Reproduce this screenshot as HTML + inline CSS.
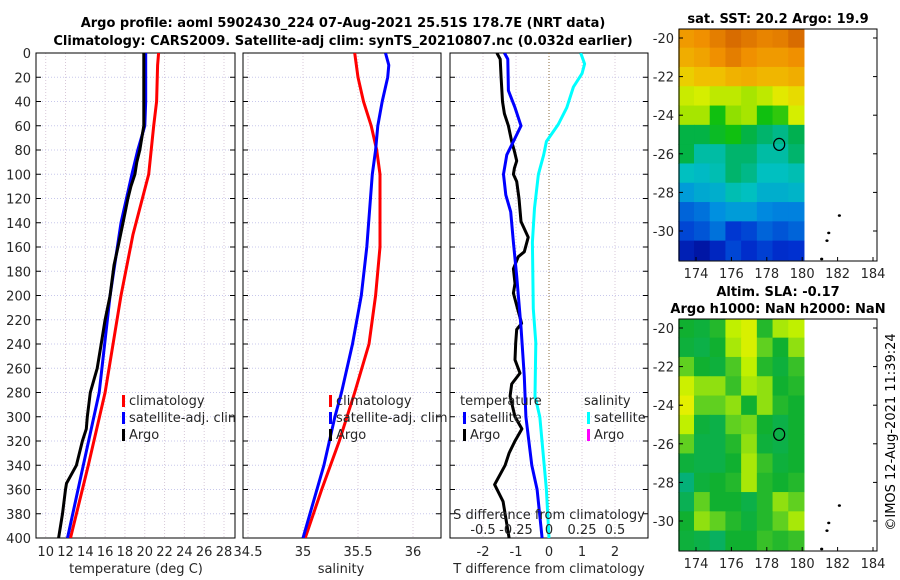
<!DOCTYPE html>
<html><head><meta charset="utf-8"><style>
html,body{margin:0;padding:0;background:#fff;}
svg{display:block;font-family:"DejaVu Sans","Liberation Sans",sans-serif;}
</style></head><body>
<svg id="fig" width="900" height="580" viewBox="0 0 900 580" xmlns="http://www.w3.org/2000/svg">
<text x="343" y="27" text-anchor="middle" font-size="13" font-weight="bold">Argo profile: aoml 5902430_224 07-Aug-2021 25.51S 178.7E (NRT data)</text>
<text x="343" y="45" text-anchor="middle" font-size="13" font-weight="bold">Climatology: CARS2009. Satellite-adj clim: synTS_20210807.nc (0.032d earlier)</text>
<text x="778" y="23" text-anchor="middle" font-size="13" font-weight="bold">sat. SST: 20.2 Argo: 19.9</text>
<text x="778" y="296" text-anchor="middle" font-size="13" font-weight="bold">Altim. SLA: -0.17</text>
<text x="778" y="313" text-anchor="middle" font-size="13" font-weight="bold">Argo h1000: NaN h2000: NaN</text>
<text transform="translate(895,432) rotate(-90)" text-anchor="middle" font-size="13">©IMOS 12-Aug-2021 11:39:24</text>
<g id="g"></g>
</svg>
<script>
// ---- data ----
const depthTicks=[0,20,40,60,80,100,120,140,160,180,200,220,240,260,280,300,320,340,360,380,400];
const tTicks=[10,12,14,16,18,20,22,24,26,28];
const sTicks=[34.5,35,35.5,36];
const dTTicks=[-2,-1,0,1,2];
const dSTickLabels=["-0.5","-0.25","0","0.25","0.5"];
const dSTicks=[-0.5,-0.25,0,0.25,0.5];

const tClimDepth=[0,10,40,60,100,150,200,280,340,400];
const tClimVal=[21.4,21.3,21.2,20.9,20.4,18.8,17.6,16.0,14.3,12.5];
const tSatDepth=[0,10,40,60,80,100,140,200,280,340,400];
const tSatVal=[20.1,20.1,20.1,20.0,19.3,18.7,17.6,16.5,15.4,13.8,12.2];
const tArgoDepth=[0,30,60,70,80,90,100,110,120,140,160,175,200,220,240,260,280,300,310,320,340,355,360,380,400];
const tArgoVal=[19.9,19.9,19.9,19.7,19.5,19.2,19.0,18.6,18.3,17.8,17.3,16.9,16.5,16.0,15.6,15.2,14.5,14.2,14.1,13.7,13.1,12.1,12.0,11.7,11.3];

const sClimDepth=[0,20,40,60,80,100,160,200,240,280,320,360,400];
const sClimVal=[35.47,35.5,35.55,35.62,35.67,35.7,35.7,35.66,35.6,35.47,35.33,35.17,35.02];
const sSatDepth=[0,10,20,40,60,80,100,160,200,240,280,300,340,400];
const sSatVal=[35.75,35.78,35.77,35.72,35.68,35.66,35.63,35.58,35.53,35.45,35.35,35.29,35.19,35.0];

const dTArgoDepth=[0,5,20,40,50,60,73,81,89,95,100,106,120,139,152,164,168,178,190,198,211,223,228,239,253,264,273,283,300,310,320,330,340,356,370,380,400];
const dTArgoVal=[-1.58,-1.48,-1.45,-1.41,-1.35,-1.23,-1.13,-1.05,-0.98,-1.05,-1.08,-0.98,-0.91,-0.85,-0.63,-0.75,-0.93,-1.08,-1.03,-1.08,-0.95,-0.83,-0.98,-1.01,-1.03,-0.88,-1.13,-1.18,-1.03,-0.82,-1.03,-1.21,-1.33,-1.65,-1.39,-1.33,-1.21];
const dTSatDepth=[0,5,31,45,60,73,84,100,117,131,156,184,226,267,300,340,360,400];
const dTSatVal=[-1.35,-1.25,-1.23,-1.03,-0.85,-1.08,-1.28,-1.38,-1.31,-1.16,-1.08,-0.98,-0.85,-0.75,-0.7,-0.52,-0.36,-0.21];
const dSSatDepth=[0,9,17,28,45,59,73,84,100,128,156,211,239,283,300,360,400];
const dSSatVal=[0.24,0.27,0.25,0.185,0.135,0.07,-0.02,-0.04,-0.08,-0.11,-0.126,-0.119,-0.1,-0.106,-0.07,-0.02,0.0];

const sstGrid=[
[0.8,0.82,0.85,0.88,0.86,0.84,0.85,0.88],
[0.76,0.78,0.82,0.85,0.82,0.8,0.8,0.82],
[0.7,0.72,0.72,0.75,0.76,0.74,0.74,0.76],
[0.63,0.64,0.62,0.62,0.6,0.62,0.66,0.68],
[0.6,0.6,0.5,0.58,0.6,0.5,0.52,0.64],
[0.45,0.45,0.48,0.5,0.45,0.42,0.4,0.44],
[0.45,0.38,0.38,0.42,0.42,0.38,0.38,0.42],
[0.36,0.35,0.37,0.42,0.4,0.36,0.36,0.37],
[0.3,0.32,0.33,0.37,0.36,0.33,0.33,0.34],
[0.22,0.24,0.28,0.3,0.3,0.27,0.26,0.26],
[0.18,0.2,0.24,0.16,0.18,0.22,0.2,0.22],
[0.1,0.07,0.12,0.18,0.14,0.17,0.14,0.15]];
const slaGrid=[
[0.4,0.35,0.45,0.8,0.9,0.45,0.75,0.8],
[0.35,0.3,0.4,0.75,0.9,0.6,0.4,0.7],
[0.6,0.4,0.35,0.55,0.8,0.45,0.35,0.5],
[0.85,0.7,0.7,0.5,0.75,0.7,0.4,0.45],
[0.95,0.6,0.6,0.7,0.4,0.7,0.45,0.4],
[0.8,0.35,0.3,0.6,0.65,0.4,0.3,0.4],
[0.6,0.3,0.3,0.45,0.7,0.35,0.3,0.4],
[0.35,0.3,0.3,0.4,0.75,0.5,0.35,0.4],
[0.1,0.35,0.4,0.45,0.75,0.45,0.4,0.45],
[0.25,0.6,0.4,0.4,0.3,0.45,0.7,0.6],
[0.4,0.7,0.6,0.45,0.35,0.45,0.6,0.75],
[0.35,0.3,0.2,0.4,0.4,0.5,0.45,0.5]];
const lonTicks=[174,176,178,180,182,184];
const latTicks=[-20,-22,-24,-26,-28,-30];
const floatLon=178.7, floatLat=-25.51;
const coastLon=[182.1,181.5,181.4,181.1];
const coastLat=[-29.2,-30.1,-30.5,-31.45];

// ---- drawing ----
const NS="http://www.w3.org/2000/svg";
const G=document.getElementById('g');
function el(tag,attrs,parent,txt){const e=document.createElementNS(NS,tag);for(const k in attrs)e.setAttribute(k,attrs[k]);if(txt!==undefined)e.textContent=txt;(parent||G).appendChild(e);return e;}
const TOP=53,BOT=538;
const yD=d=>TOP+d*(BOT-TOP)/400;
function lin(d0,d1,p0,p1){return v=>p0+(v-d0)*(p1-p0)/(d1-d0);}
const defs=el('defs',{});

function panel(name,x0,x1,xs,gridX,labels,labelVals){
  const cp=el('clipPath',{id:'cp-'+name},defs);el('rect',{x:x0,y:TOP,width:x1-x0,height:BOT-TOP},cp);
  const g=el('g',{});
  
  
  depthTicks.forEach(d=>{const l=el('line',{x1:x0,x2:x1,y1:yD(d),y2:yD(d),stroke:'#c8c8ec','stroke-dasharray':'1,2','stroke-width':1},g);
    });
  gridX.forEach(v=>{const l=el('line',{x1:xs(v),x2:xs(v),y1:TOP,y2:BOT,stroke:'#d8c8d8','stroke-dasharray':'1,2','stroke-width':1},g);
    });
  depthTicks.forEach(d=>{el('line',{x1:x0,x2:x0+5,y1:yD(d),y2:yD(d),stroke:'#000'},g);el('line',{x1:x1-5,x2:x1,y1:yD(d),y2:yD(d),stroke:'#000'},g);});
  labels.forEach((t,i)=>{const tx=el('text',{x:xs(labelVals[i]),y:556,'text-anchor':'middle','font-size':13,fill:'#262626'},g,t);
    });
  const f=el('rect',{x:x0,y:TOP,width:x1-x0,height:BOT-TOP,fill:'none',stroke:'#000','stroke-width':1},g);
  
  return g;
}
function line(name,xs,depths,vals,color,clipId,w){
  const pts=depths.map((d,i)=>xs(vals[i]).toFixed(1)+','+yD(d).toFixed(1)).join(' ');
  const p=el('polyline',{points:pts,fill:'none',stroke:color,'stroke-width':w||3,'stroke-linejoin':'round','clip-path':'url(#'+clipId+')'});
  
  
}
function legend(x,y,items,clipId){
  items.forEach((it,i)=>{
    const r=el('rect',{x:x,y:y+i*17-10,width:3,height:12,fill:it[1]});
    
    const t=el('text',{x:x+7,y:y+i*17,'font-size':13,fill:'#262626','clip-path':clipId?'url(#'+clipId+')':''},G,it[0]);
    
  });
}

// panel 1 temperature
const xT=lin(10,28,45.7,224);
panel('temperature',36,235,xT,tTicks,tTicks.map(String),tTicks);
depthTicks.forEach(d=>{const t=el('text',{x:31,y:yD(d)+5,'text-anchor':'end','font-size':13,fill:'#262626'},G,String(d));
  });
line('temp-climatology-line',xT,tClimDepth,tClimVal,'#ff0000','cp-temperature');
line('temp-satellite-line',xT,tSatDepth,tSatVal,'#0000ff','cp-temperature');
line('temp-argo-line',xT,tArgoDepth,tArgoVal,'#000','cp-temperature');
legend(122,405,[['climatology','#ff0000'],['satellite-adj. clim','#0000ff'],['Argo','#000']],'cp-temperature');
let xl=el('text',{x:136,y:573,'text-anchor':'middle','font-size':13,fill:'#262626'},G,'temperature (deg C)');


// panel 2 salinity
const xS=lin(35,36,303,413);
panel('salinity',243,441,xS,sTicks,sTicks.map(String),sTicks);
line('sal-climatology-line',xS,sClimDepth,sClimVal,'#ff0000','cp-salinity');
line('sal-satellite-line',xS,sSatDepth,sSatVal,'#0000ff','cp-salinity');
legend(329,405,[['climatology','#ff0000'],['satellite-adj. clim','#0000ff'],['Argo','#000']],null);
xl=el('text',{x:341,y:573,'text-anchor':'middle','font-size':13,fill:'#262626'},G,'salinity');


// panel 3 differences
const xDT=lin(0,1,549,582);
const xDS=lin(0,1,549,681);
panel('difference',450,648,xDT,[-2,-1,1,2],dTTicks.map(String),dTTicks);
let zl=el('line',{x1:xDT(0),x2:xDT(0),y1:TOP,y2:BOT,stroke:'#8a6a3a','stroke-dasharray':'1,2'});

line('dT-argo-line',xDT,dTArgoDepth,dTArgoVal,'#000','cp-difference');
line('dT-satellite-line',xDT,dTSatDepth,dTSatVal,'#0000ff','cp-difference');
line('dS-satellite-line',xDS,dSSatDepth,dSSatVal,'#00ffff','cp-difference');
let tt=el('text',{x:460,y:405,'font-size':13,fill:'#262626'},G,'temperature');
tt=el('text',{x:584,y:405,'font-size':13,fill:'#262626'},G,'salinity');
legend(463,422,[['satellite','#0000ff'],['Argo','#000']],null);
legend(587,422,[['satellite','#00ffff'],['Argo','#ff00ff']],null);
tt=el('text',{x:549,y:519,'text-anchor':'middle','font-size':13,fill:'#262626'},G,'S difference from climatology');
dSTicks.forEach((v,i)=>{const t=el('text',{x:xDS(v),y:534,'text-anchor':'middle','font-size':13,fill:'#262626'},G,dSTickLabels[i]);
  });
xl=el('text',{x:549,y:573,'text-anchor':'middle','font-size':13,fill:'#262626'},G,'T difference from climatology');


// maps
function sstColor(v){
  const stops=[[0,[0,0,128]],[0.15,[0,48,208]],[0.28,[0,144,224]],[0.36,[0,192,192]],[0.44,[0,176,80]],[0.5,[16,192,16]],[0.58,[144,224,0]],[0.65,[224,240,0]],[0.72,[240,192,0]],[0.82,[240,144,0]],[0.9,[208,96,0]],[1,[160,48,0]]];
  return interp(stops,v);}
function slaColor(v){
  const stops=[[0,[0,176,144]],[0.4,[16,176,48]],[0.6,[96,208,32]],[0.8,[192,240,0]],[1,[240,240,0]]];
  return interp(stops,v);}
function interp(stops,v){for(let i=1;i<stops.length;i++){if(v<=stops[i][0]){const a=stops[i-1],b=stops[i],t=(v-a[0])/(b[0]-a[0]);
  return 'rgb('+a[1].map((c,k)=>Math.round(c+(b[1][k]-c)*t)).join(',')+')';}}return 'rgb('+stops[stops.length-1][1].join(',')+')';}
function map(name,top,bot,latY20,grid,cf){
  const x0=679,x1=877;
  const xL=lin(174,184,696,873);
  const yL=lin(-20,-30,latY20,latY20+193);
  const g=el('g',{});
  
  
  const rows=grid.length,cols=grid[0].length;
  const lonW=(180.1-173)/cols,latH=(-19.5-(-31.5))/rows;
  grid.forEach((row,r)=>row.forEach((v,c)=>{
    const xa=xL(173+c*lonW),xb=xL(173+(c+1)*lonW);
    const ya=Math.max(top,yL(-19.5-r*latH)),yb=Math.min(bot,yL(-19.5-(r+1)*latH));
    const rc=el('rect',{x:xa,y:ya,width:xb-xa+0.5,height:yb-ya+0.5,fill:cf(v)},g);
    
  }));
  coastLon.forEach((lo,i)=>{const d=el('ellipse',{cx:xL(lo),cy:yL(coastLat[i]),rx:1.6,ry:1.3,fill:'#000'},g);
    });
  const c=el('ellipse',{cx:xL(floatLon),cy:yL(floatLat),rx:5.5,ry:6,fill:'none',stroke:'#000','stroke-width':1.2},g);
  
  el('rect',{x:x0,y:top,width:x1-x0,height:bot-top,fill:'none',stroke:'#000'},g);
  lonTicks.forEach(lo=>{el('line',{x1:xL(lo),x2:xL(lo),y1:bot,y2:bot-4,stroke:'#000'},g);
    const t=el('text',{x:xL(lo),y:bot+17,'text-anchor':'middle','font-size':13,fill:'#262626'},g,String(lo));
    });
  latTicks.forEach(la=>{el('line',{x1:x0,x2:x0+4,y1:yL(la),y2:yL(la),stroke:'#000'},g);el('line',{x1:x1-4,x2:x1,y1:yL(la),y2:yL(la),stroke:'#000'},g);
    const t=el('text',{x:x0-5,y:yL(la)+5,'text-anchor':'end','font-size':13,fill:'#262626'},g,String(la));
    });
}
map('sst-map',29,261,38,sstGrid,sstColor);
map('sla-map',319,551,328,slaGrid,slaColor);
</script>
</body></html>
